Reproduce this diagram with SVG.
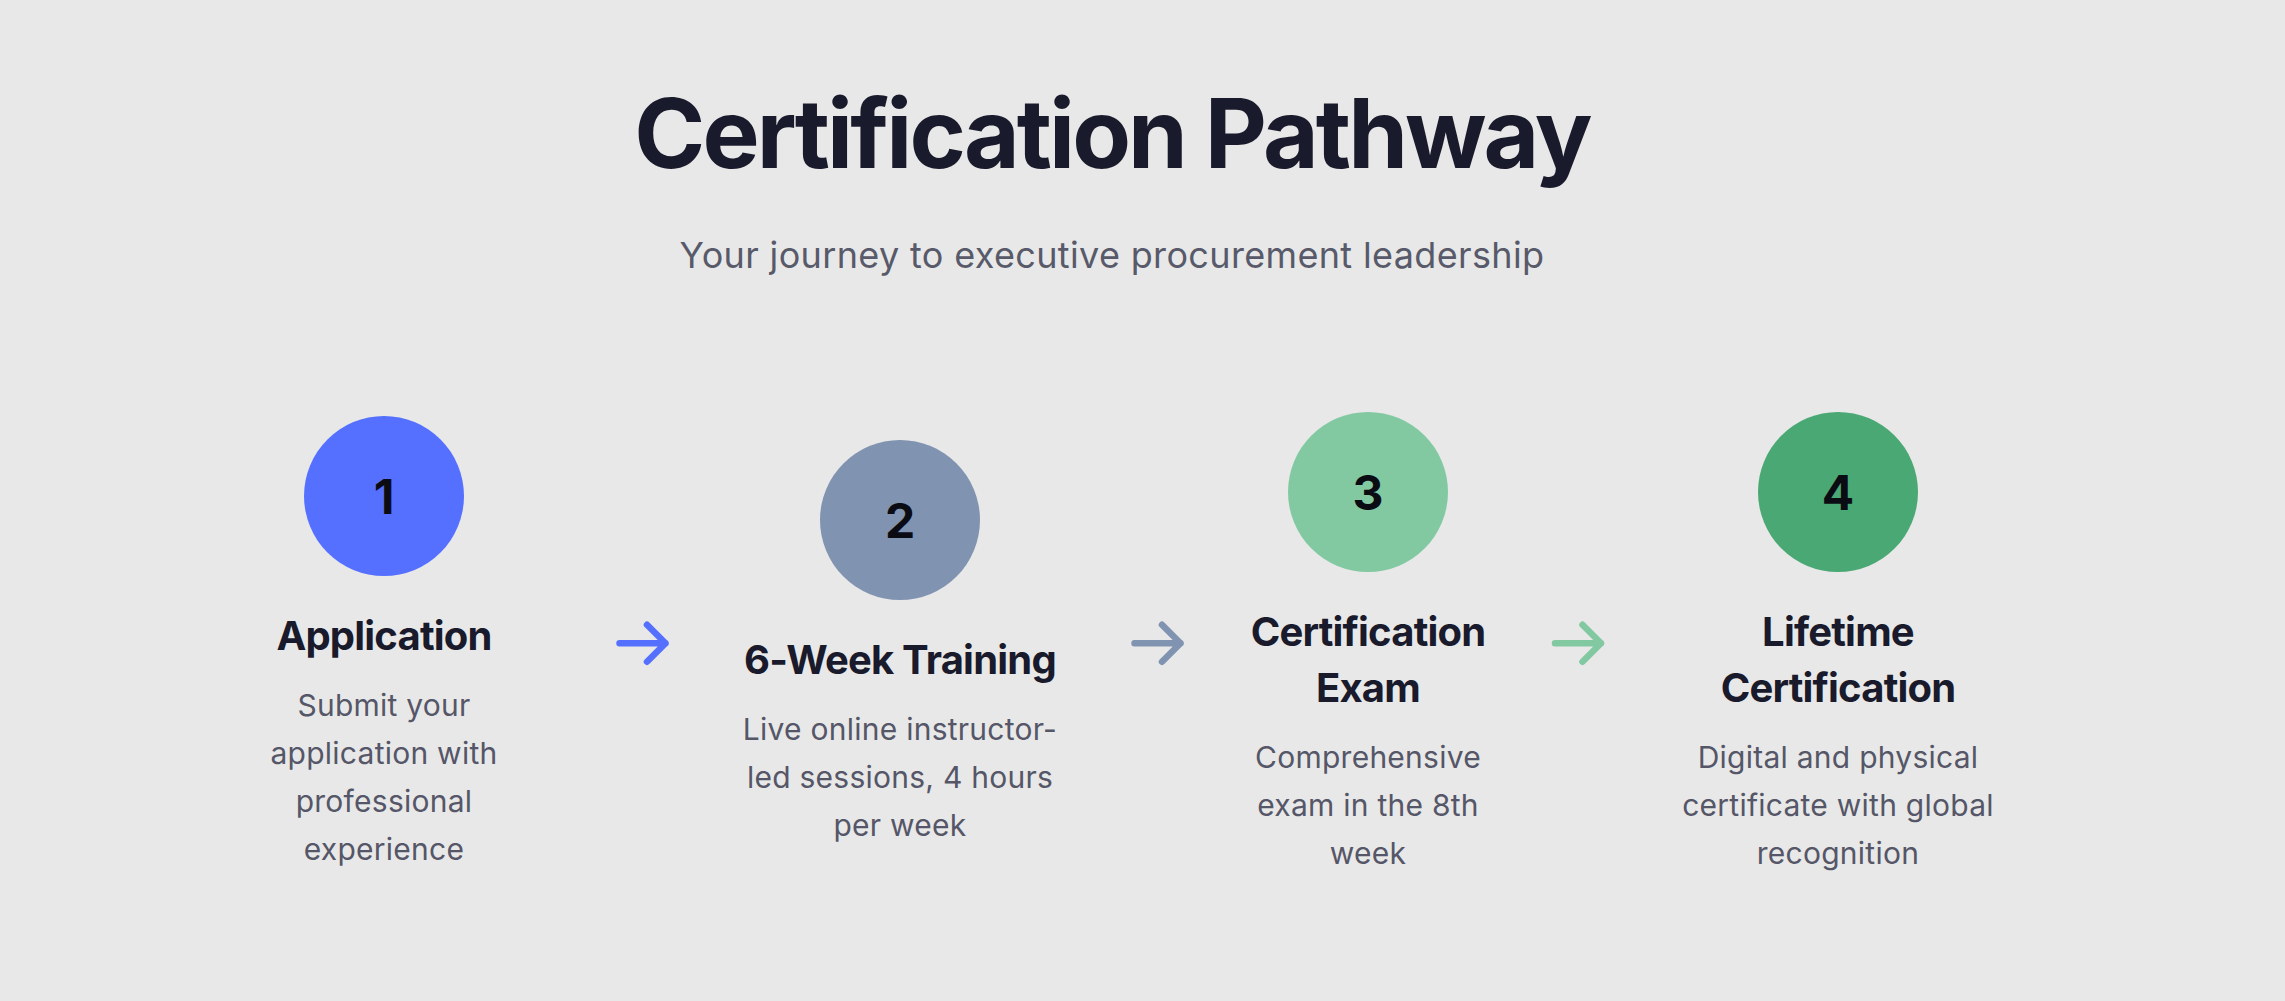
<svg xmlns="http://www.w3.org/2000/svg" width="2285" height="1001" viewBox="0 0 2285 1001">
  <style>
    text { font-family: Inter, "Noto Sans", "Liberation Sans", sans-serif; text-anchor: middle; }
    .title { font-size: 96px; font-weight: 700; fill: #191a2b; letter-spacing: -2.9px; }
    .subtitle { font-size: 36px; font-weight: 400; fill: #585a6a; letter-spacing: 0.35px; }
    .num { font-size: 48px; font-weight: 700; fill: #0b0b14; }
    .head { font-size: 40px; font-weight: 700; fill: #191a2b; letter-spacing: -0.8px; }
    .desc { font-size: 30px; font-weight: 400; fill: #555667; letter-spacing: 0.25px; }
    .arrow { fill: none; stroke-width: 6.5; stroke-linecap: round; stroke-linejoin: round; }
  </style>
  <defs>
    <path id="arr" d="M3.5 0 H49.5 M31 -18.5 L49.5 0 L31 18.5"/>
  </defs>
  <rect width="2285" height="1001" fill="#e8e8e8"/>

  <g id="header">
    <text class="title" x="1112" y="168">Certification Pathway</text>
    <text class="subtitle" x="1112" y="268">Your journey to executive procurement leadership</text>
  </g>

  <g id="step1">
    <circle cx="384" cy="496" r="80" fill="#5570ff"/>
    <text class="num" x="384" y="513.5">1</text>
    <text class="head" x="384" y="650">Application</text>
    <text class="desc" x="384" y="716">Submit your</text>
    <text class="desc" x="384" y="764">application with</text>
    <text class="desc" x="384" y="812">professional</text>
    <text class="desc" x="384" y="860">experience</text>
  </g>

  <g id="step2">
    <circle cx="900" cy="520" r="80" fill="#8093b0"/>
    <text class="num" x="900" y="537.5">2</text>
    <text class="head" x="900" y="674">6-Week Training</text>
    <text class="desc" x="900" y="740">Live online instructor-</text>
    <text class="desc" x="900" y="788">led sessions, 4 hours</text>
    <text class="desc" x="900" y="836">per week</text>
  </g>

  <g id="step3">
    <circle cx="1368" cy="492" r="80" fill="#82c9a2"/>
    <text class="num" x="1368" y="509.5">3</text>
    <text class="head" x="1368" y="646">Certification</text>
    <text class="head" x="1368" y="702">Exam</text>
    <text class="desc" x="1368" y="768">Comprehensive</text>
    <text class="desc" x="1368" y="816">exam in the 8th</text>
    <text class="desc" x="1368" y="864">week</text>
  </g>

  <g id="step4">
    <circle cx="1838" cy="492" r="80" fill="#4aa874"/>
    <text class="num" x="1838" y="509.5">4</text>
    <text class="head" x="1838" y="646">Lifetime</text>
    <text class="head" x="1838" y="702">Certification</text>
    <text class="desc" x="1838" y="768">Digital and physical</text>
    <text class="desc" x="1838" y="816">certificate with global</text>
    <text class="desc" x="1838" y="864">recognition</text>
  </g>

  <g id="connectors">
    <use href="#arr" class="arrow" stroke="#5570ff" transform="translate(616 643.3)"/>
    <use href="#arr" class="arrow" stroke="#8093b0" transform="translate(1131 643.3)"/>
    <use href="#arr" class="arrow" stroke="#82c9a2" transform="translate(1551.5 643.3)"/>
  </g>
</svg>
